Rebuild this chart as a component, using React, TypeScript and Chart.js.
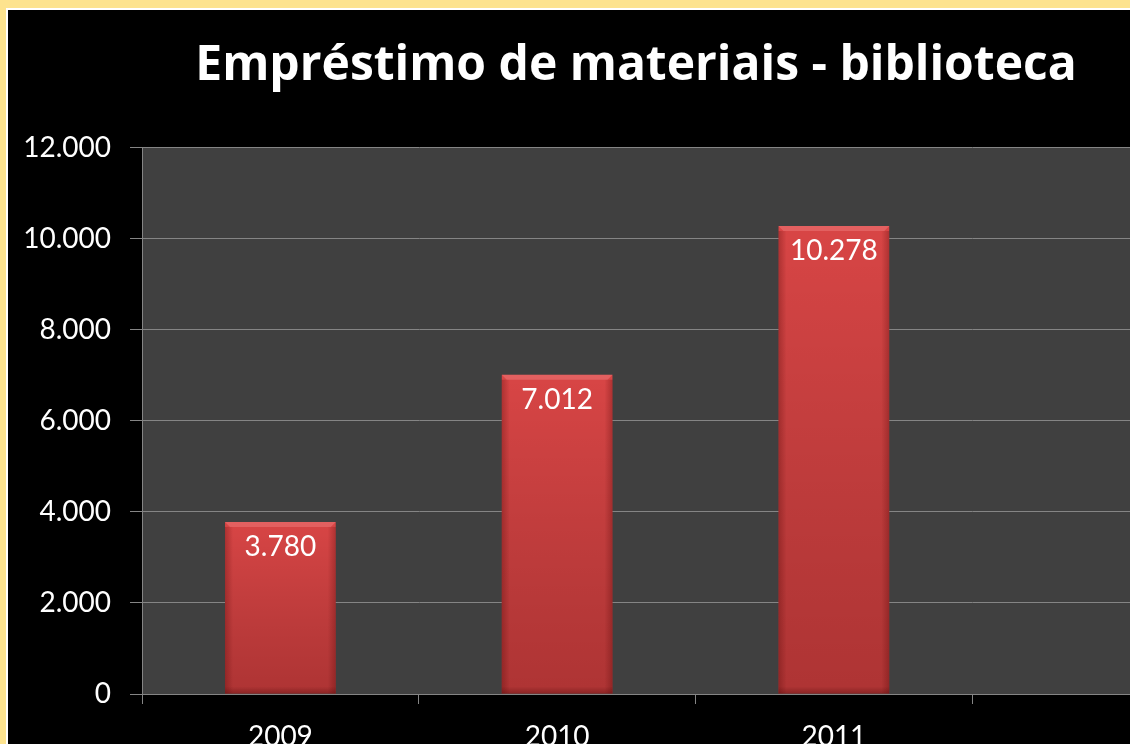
import React, { useEffect, useRef } from "react";
import { Chart, registerables } from "chart.js";

Chart.register(...registerables);

const TITLE = "Empréstimo de materiais - biblioteca";
const categories = ["2009", "2010", "2011", ""];
const loans: (number | null)[] = [3780, 7012, 10278, null];
const yMin = 0;
const yMax = 12000;
const yStep = 2000;

const FONT = 'Lato, "Open Sans", sans-serif';
const TITLE_FONT = '"Open Sans", Lato, sans-serif';

const fmt = (v: number) => String(Math.round(v)).replace(/\B(?=(\d{3})+(?!\d))/g, ".");

const plotBg = {
  id: "plotBg",
  beforeDraw(chart: any) {
    const { ctx, chartArea } = chart;
    ctx.save();
    ctx.fillStyle = "#404040";
    ctx.fillRect(chartArea.left, chartArea.top, chartArea.right - chartArea.left, chartArea.bottom - chartArea.top);
    ctx.restore();
  },
};

const barDecor = {
  id: "barDecor",
  afterDatasetsDraw(chart: any) {
    const { ctx } = chart;
    const meta = chart.getDatasetMeta(0);
    meta.data.forEach((bar: any, i: number) => {
      const v = loans[i];
      if (v == null) return;
      const { x, y, base, width } = bar.getProps(["x", "y", "base", "width"], true);
      const l = x - width / 2;
      const r = x + width / 2;
      const h = base - y;
      ctx.save();
      // vertical shading
      const g = ctx.createLinearGradient(0, y, 0, base);
      g.addColorStop(0, "rgba(0,0,0,0)");
      g.addColorStop(1, "rgba(50,0,0,0.25)");
      ctx.fillStyle = g;
      ctx.fillRect(l, y, width, h);
      const b = 5;
      // top bevel highlight
      ctx.fillStyle = "rgba(255,170,170,0.28)";
      ctx.beginPath();
      ctx.moveTo(l, y);
      ctx.lineTo(r, y);
      ctx.lineTo(r - b, y + b);
      ctx.lineTo(l + b, y + b);
      ctx.closePath();
      ctx.fill();
      // side bevels (soft)
      const gl = ctx.createLinearGradient(l, 0, l + b + 3, 0);
      gl.addColorStop(0, "rgba(70,0,0,0.28)");
      gl.addColorStop(1, "rgba(70,0,0,0)");
      ctx.fillStyle = gl;
      ctx.fillRect(l, y + b, b + 3, h - b);
      const gr = ctx.createLinearGradient(r, 0, r - b - 3, 0);
      gr.addColorStop(0, "rgba(70,0,0,0.28)");
      gr.addColorStop(1, "rgba(70,0,0,0)");
      ctx.fillStyle = gr;
      ctx.fillRect(r - b - 3, y + b, b + 3, h - b);
      // bottom bevel
      const gb = ctx.createLinearGradient(0, base, 0, base - b - 2);
      gb.addColorStop(0, "rgba(60,0,0,0.3)");
      gb.addColorStop(1, "rgba(60,0,0,0)");
      ctx.fillStyle = gb;
      ctx.fillRect(l, base - b - 2, width, b + 2);
      // value label
      ctx.fillStyle = "#ffffff";
      ctx.font = `28px ${FONT}`;
      ctx.textAlign = "center";
      ctx.textBaseline = "middle";
      ctx.fillText(fmt(v), x, y + 25);
      ctx.restore();
    });
  },
};

export default function App() {
  const ref = useRef<HTMLCanvasElement | null>(null);

  useEffect(() => {
    if (!ref.current) return;
    const chart = new Chart(ref.current, {
      type: "bar",
      data: {
        labels: categories,
        datasets: [
          {
            data: loans as any,
            backgroundColor: "#d84545",
            borderWidth: 0,
            barPercentage: 0.4,
            categoryPercentage: 1,
          },
        ],
      },
      options: {
        animation: false,
        responsive: false,
        devicePixelRatio: 1,
        layout: { padding: { left: 15, right: 19, top: 0, bottom: 0 } },
        plugins: {
          legend: { display: false },
          tooltip: { enabled: false },
          title: {
            display: true,
            text: TITLE,
            color: "#ffffff",
            font: { family: TITLE_FONT, size: 48, weight: "bold" },
            padding: { top: 28, bottom: 52 },
          },
        },
        scales: {
          x: {
            afterFit: (s: any) => {
              s.height = 86;
            },
            grid: {
              offset: true,
              drawOnChartArea: false,
              drawTicks: true,
              tickLength: 10,
              color: "#858585",
            },
            border: { display: true, color: "#858585", width: 1 },
            ticks: {
              color: "#ffffff",
              font: { family: FONT, size: 28 },
              padding: 16,
              maxRotation: 0,
            },
          },
          y: {
            min: yMin,
            max: yMax,
            afterFit: (s: any) => {
              s.width = 119;
            },
            grid: {
              color: "#858585",
              drawTicks: true,
              tickLength: 12,
            },
            border: { display: true, color: "#858585", width: 1 },
            ticks: {
              stepSize: yStep,
              color: "#ffffff",
              font: { family: FONT, size: 28 },
              padding: 19,
              callback: (v: any) => fmt(Number(v)),
            },
          },
        },
      },
      plugins: [plotBg, barDecor],
    });
    return () => chart.destroy();
  }, []);

  return (
    <div
      style={{
        position: "fixed",
        left: 0,
        top: 0,
        width: 1130,
        height: 744,
        overflow: "hidden",
        background: "#fde38e",
      }}
    >
      <div
        style={{
          position: "absolute",
          left: 6,
          top: 8,
          width: 1300,
          height: 800,
          background: "#ffffff",
        }}
      />
      <div
        style={{
          position: "absolute",
          left: 8,
          top: 10,
          width: 1300,
          height: 800,
          background: "#000000",
        }}
      >
        <canvas ref={ref} width={1260} height={770} style={{ display: "block" }} />
      </div>
    </div>
  );
}
